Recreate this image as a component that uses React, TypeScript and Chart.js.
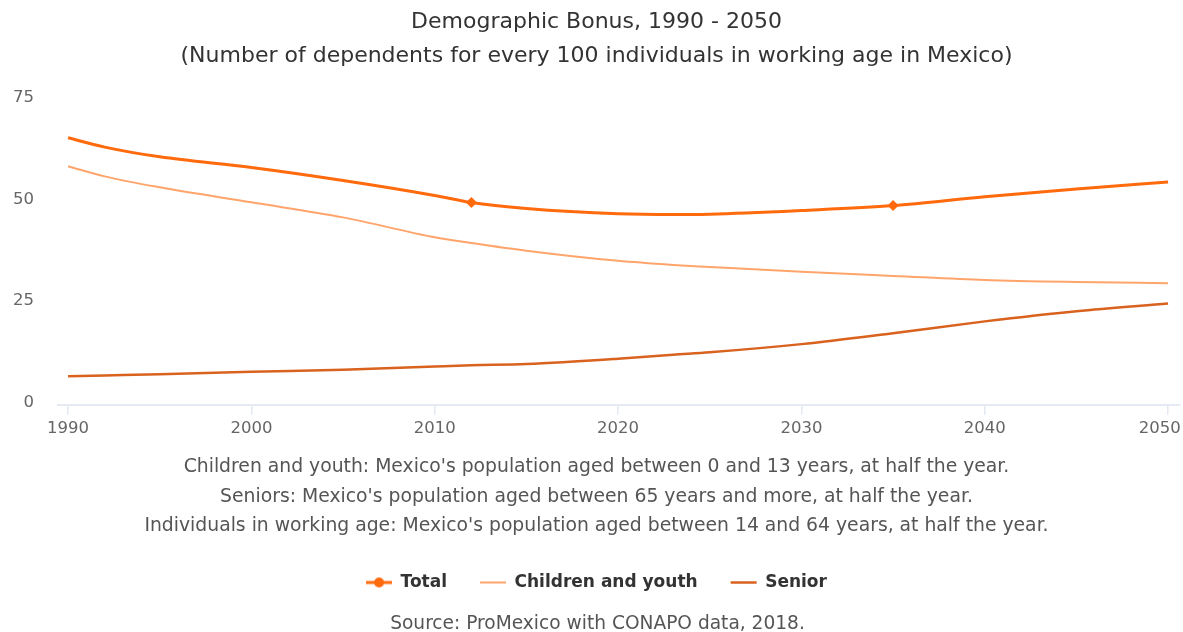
import React, { useEffect, useRef } from "react";
import { Chart, registerables } from "chart.js";

Chart.register(...registerables);

const years = [1990, 1992, 1995, 2000, 2005, 2010, 2012, 2015, 2020, 2023, 2025, 2030, 2035, 2040, 2045, 2050];
const totalValues = [65.7, 63.4, 61.0, 58.4, 55.2, 51.5, 49.75, 48.3, 47.0, 46.8, 46.9, 47.8, 49.0, 51.2, 53.1, 54.8];
const childrenValues = [58.7, 56.2, 53.5, 49.8, 46.1, 41.2, 39.8, 37.9, 35.4, 34.4, 33.9, 32.7, 31.7, 30.7, 30.2, 29.9];
const seniorValues = [7.0, 7.2, 7.5, 8.1, 8.6, 9.4, 9.7, 10.0, 11.3, 12.3, 12.9, 14.9, 17.6, 20.5, 23.0, 24.9];
const markerYears = [2012, 2035];

const xTickYears = [1990, 2000, 2010, 2020, 2030, 2040, 2050];
const yTickValues = [0, 25, 50, 75];

const seriesNames = ["Total", "Children and youth", "Senior"];
const seriesColors = ["#FF6A0D", "#FFA56C", "#D9621F"];
const seriesWidths = [3, 2, 2.5];

const titleLines = [
  "Demographic Bonus, 1990 - 2050",
  "(Number of dependents for every 100 individuals in working age in Mexico)",
];
const noteLines = [
  "Children and youth: Mexico's population aged between 0 and 13 years, at half the year.",
  "Seniors: Mexico's population aged between 65 years and more, at half the year.",
  "Individuals in working age: Mexico's population aged between 14 and 64 years, at half the year.",
];
const sourceText = "Source: ProMexico with CONAPO data, 2018.";

const FONT = "'DejaVu Sans', Verdana, sans-serif";

function makeTotalLegendSymbol(color: string): HTMLCanvasElement {
  const c = document.createElement("canvas");
  c.width = 26;
  c.height = 12;
  const ctx = c.getContext("2d")!;
  ctx.strokeStyle = color;
  ctx.lineWidth = 3;
  ctx.beginPath();
  ctx.moveTo(0, 6);
  ctx.lineTo(26, 6);
  ctx.stroke();
  ctx.fillStyle = color;
  ctx.beginPath();
  ctx.arc(13, 6, 5, 0, Math.PI * 2);
  ctx.fill();
  return c;
}

export default function App() {
  const canvasRef = useRef<HTMLCanvasElement | null>(null);

  useEffect(() => {
    document.body.style.margin = "0";
    const canvas = canvasRef.current;
    if (!canvas) return;

    const toPoints = (vals: number[]) => years.map((y, i) => ({ x: y, y: vals[i] }));
    const markerRadii = years.map((y) => (markerYears.includes(y) ? 5.5 : 0));
    const totalSymbol = makeTotalLegendSymbol(seriesColors[0]);

    const sourcePlugin = {
      id: "sourceText",
      afterDraw(chart: any) {
        const ctx = chart.ctx;
        ctx.save();
        ctx.font = `18.6px ${FONT}`;
        ctx.fillStyle = "#555555";
        ctx.textAlign = "center";
        ctx.textBaseline = "middle";
        ctx.fillText(sourceText, chart.width / 2 + 6, chart.height - 8);
        ctx.restore();
      },
    };

    const chart = new Chart(canvas, {
      type: "line",
      data: {
        datasets: [
          {
            label: seriesNames[0],
            data: toPoints(totalValues),
            borderColor: seriesColors[0],
            backgroundColor: seriesColors[0],
            borderWidth: seriesWidths[0],
            pointRadius: markerRadii,
            pointStyle: "rectRot",
            pointBorderWidth: 0,
            cubicInterpolationMode: "monotone",
          },
          {
            label: seriesNames[1],
            data: toPoints(childrenValues),
            borderColor: seriesColors[1],
            backgroundColor: seriesColors[1],
            borderWidth: seriesWidths[1],
            pointRadius: 0,
            cubicInterpolationMode: "monotone",
          },
          {
            label: seriesNames[2],
            data: toPoints(seniorValues),
            borderColor: seriesColors[2],
            backgroundColor: seriesColors[2],
            borderWidth: seriesWidths[2],
            pointRadius: 0,
            cubicInterpolationMode: "monotone",
          },
        ],
      },
      options: {
        animation: false,
        responsive: true,
        maintainAspectRatio: false,
        layout: { padding: { left: 13, right: 3, top: 0, bottom: 31 } },
        scales: {
          x: {
            type: "linear",
            min: 1989.45,
            max: 2050.65,
            afterBuildTicks: (axis: any) => {
              axis.ticks = xTickYears.map((v) => ({ value: v }));
            },
            afterFit: (axis: any) => {
              axis.paddingLeft = 0;
              axis.paddingRight = 0;
            },
            grid: {
              display: true,
              drawOnChartArea: false,
              drawTicks: true,
              tickLength: 10,
              color: "#E3E8F2",
              lineWidth: 1.5,
            },
            border: { display: true, color: "#E6EAF3", width: 2 },
            ticks: {
              color: "#666666",
              font: { family: FONT, size: 16.5 },
              padding: 4,
              maxRotation: 0,
              autoSkip: false,
              callback: (v: any) => (v === 2050 ? "2050\u2002\u2002" : String(v)),
            },
          },
          y: {
            min: 0,
            max: 75,
            afterBuildTicks: (axis: any) => {
              axis.ticks = yTickValues.map((v) => ({ value: v }));
            },
            afterFit: (axis: any) => {
              axis.width = 45;
            },
            grid: { display: false, drawTicks: false },
            border: { display: false },
            ticks: {
              color: "#666666",
              font: { family: FONT, size: 16.5 },
              padding: 24,
              labelOffset: -2,
            },
          },
        },
        plugins: {
          title: {
            display: true,
            text: titleLines,
            color: "#333333",
            font: { family: FONT, size: 22, weight: "normal", lineHeight: 1.545 },
            padding: { top: 5, bottom: 27 },
          },
          subtitle: {
            display: true,
            position: "bottom",
            weight: 500,
            text: noteLines,
            color: "#555555",
            font: { family: FONT, size: 18.8, weight: "normal", lineHeight: 1.57 },
            padding: { top: 10, bottom: 0 },
          },
          legend: {
            position: "bottom",
            labels: {
              usePointStyle: true,
              pointStyleWidth: 26,
              padding: 33,
              color: "#333333",
              font: { family: FONT, size: 17, weight: "bold" },
              generateLabels: (ch: any) => {
                const items = Chart.defaults.plugins.legend.labels.generateLabels(ch);
                return items.map((it: any, i: number) => ({
                  ...it,
                  pointStyle: i === 0 ? totalSymbol : "line",
                  lineWidth: seriesWidths[i],
                  strokeStyle: seriesColors[i],
                  fillStyle: seriesColors[i],
                }));
              },
            },
          },
          tooltip: { enabled: false },
        },
      },
      plugins: [sourcePlugin],
    });

    return () => chart.destroy();
  }, []);

  return (
    <div style={{ width: 1183, height: 632, position: "relative", background: "#ffffff" }}>
      <canvas ref={canvasRef} />
    </div>
  );
}
